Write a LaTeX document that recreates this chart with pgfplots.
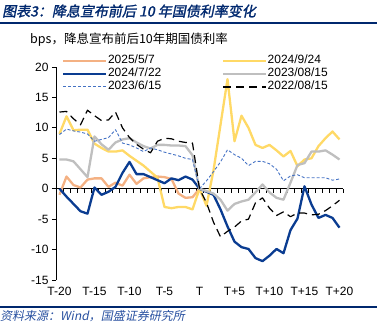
\documentclass[border=0pt]{standalone}
\usepackage{pgfplots}
\usepackage{pgfplotstable}
\pgfplotsset{compat=1.18}
\usepackage{fontspec}
\setmainfont{Liberation Sans}
\newfontfamily\cjk{Noto Sans CJK SC}
\newfontfamily\cjkhead[FakeSlant=0.2,FakeBold=1.5]{Noto Sans CJK SC}
\newfontfamily\cjkit[FakeSlant=0.2]{Noto Sans CJK SC}
\definecolor{navy}{RGB}{0,40,110}
\definecolor{footblue}{RGB}{40,80,160}
\definecolor{csalmon}{RGB}{244,177,131}
\definecolor{cyellow}{RGB}{255,217,102}
\definecolor{cblue}{RGB}{10,60,145}
\definecolor{cgray}{RGB}{191,191,191}
\definecolor{clight}{RGB}{68,114,196}

\pgfplotstableread{
x s y b g l k
-20 -1.0 9.0 0.0 4.8 8.9 12.6
-19 2.0 11.9 -1.3 4.8 9.8 12.7
-18 0.6 9.6 -2.5 4.5 9.5 11.5
-17 0.2 9.7 -3.7 3.2 9.3 10.5
-16 1.5 9.7 -4.1 1.9 9.0 12.9
-15 1.7 7.4 0.2 8.6 7.8 12.0
-14 1.7 6.7 -1.0 7.3 8.1 11.2
-13 0.3 6.1 -0.5 6.4 8.4 11.3
-12 1.0 6.1 0.3 7.6 9.7 12.6
-11 0.5 6.3 2.6 8.1 7.5 10.0
-10 2.3 5.4 4.4 8.3 7.2 8.4
-9 0.8 4.6 2.4 7.6 6.7 7.3
-8 1.7 3.8 2.4 7.0 6.1 6.5
-7 1.9 2.8 1.9 6.6 6.7 5.9
-6 2.0 1.8 1.4 7.2 6.4 7.8
-5 1.9 -3.0 0.9 7.2 6.0 8.3
-4 1.6 -3.2 1.7 7.1 5.7 8.2
-3 -0.8 -3.0 1.4 7.1 5.4 7.8
-2 -1.5 -3.0 2.0 7.0 5.0 7.6
-1 -1.4 -3.4 1.5 5.5 4.8 7.5
0 0 0 0 0 0 0
1 nan -2.8 -0.5 -0.4 1.3 -2.3
2 nan 3.0 -1.0 -0.8 2.8 -5.5
3 nan 10.5 -3.4 -1.8 4.4 -7.9
4 nan 18.0 -6.2 -3.6 6.4 -7.0
5 nan 7.8 -8.7 -2.5 5.6 -6.3
6 nan 12.0 -9.6 -2.1 5.0 -5.3
7 nan 10.0 -9.9 -1.8 3.8 -5.0
8 nan 7.2 -11.4 -0.6 4.5 -2.3
9 nan 6.7 -11.9 0.7 4.5 -1.5
10 nan 7.2 -11.0 -0.6 4.1 -3.2
11 nan 6.3 -9.9 -1.5 3.2 -4.4
12 nan 5.3 -10.6 -1.8 1.3 -3.8
13 nan 6.2 -6.8 1.0 2.1 -4.6
14 nan 3.7 -4.9 3.9 2.3 -4.0
15 nan 4.8 0.4 4.2 1.8 -4.0
16 nan 5.0 -2.6 6.1 1.8 -4.3
17 nan 7.0 -4.8 6.1 1.8 -4.2
18 nan 8.3 -4.3 6.3 1.8 -3.6
19 nan 9.4 -4.8 5.6 1.4 -2.8
20 nan 8.1 -6.4 4.8 1.6 -1.9
}\datatable

\begin{document}
\begin{tikzpicture}[x=1bp,y=1bp]
% zero line with category ticks
\begin{axis}[scale only axis, width=287bp, height=213bp,
  xmin=-20.5, xmax=20.5, ymin=-15, ymax=20,
  axis x line=middle, axis y line=none,
  x axis line style={-, black, line width=0.8bp},
  xtick={-20.5,-19.5,...,20.5}, xticklabels={}, ytick=\empty,
  tick align=outside, major tick length=4bp,
  x tick style={black, line width=0.8bp}]
\coordinate (Z) at (axis cs:0,0);
\end{axis}

\begin{axis}[at={(Z)}, anchor=origin, scale only axis, width=287bp, height=213bp,
  xmin=-20.5, xmax=20.5, ymin=-15, ymax=20,
  axis x line*=bottom, axis y line*=left,
  x axis line style={draw=none},
  y axis line style={-, black, line width=0.8bp},
  xtick={-20,-15,...,20},
  xticklabels={T-20,T-15,T-10,T-5,T,T+5,T+10,T+15,T+20},
  x tick style={draw=none},
  ytick={-15,-10,...,20},
  y tick style={black, line width=0.8bp},
  tick align=outside, major tick length=4bp,
  tick label style={font=\fontsize{12bp}{14bp}\selectfont},
  /pgf/number format/assume math mode=true,
  clip=false,
  legend columns=2,
  legend cell align=left,
  legend image code/.code={\draw[#1] (0bp,0bp) -- (43bp,0bp);},
  legend style={at={(0.021,1.06)}, anchor=north west, draw=none, fill=none, inner sep=0pt,
    font=\fontsize{12bp}{14bp}\selectfont,
    nodes={inner sep=0.5bp, text height=8.5bp, text depth=3.5bp},
    /tikz/column 2/.style={column sep=60bp}},
  every axis plot/.append style={line join=round}
]
\coordinate (O) at (axis cs:-20.5,-15);
\addplot[csalmon, line width=2.3bp] table[x=x,y=s]{\datatable};
\addlegendentry{2025/5/7}
\addplot[cyellow, line width=2.3bp] table[x=x,y=y]{\datatable};
\addlegendentry{2024/9/24}
\addplot[cblue, line width=2.3bp] table[x=x,y=b]{\datatable};
\addlegendentry{2024/7/22}
\addplot[cgray, line width=2.3bp] table[x=x,y=g]{\datatable};
\addlegendentry{2023/08/15}
\addplot[clight, line width=0.9bp, dash pattern=on 3bp off 2bp] table[x=x,y=l]{\datatable};
\addlegendentry{2023/6/15}
\addplot[black, line width=1.2bp, dash pattern=on 8bp off 5bp] table[x=x,y=k]{\datatable};
\addlegendentry{2022/08/15}
\end{axis}

\begin{scope}[shift={(O)}, xshift=-56bp, yshift=-45bp]
\node[anchor=west,inner sep=0,font=\cjkhead\fontsize{14bp}{16bp}\selectfont,text=navy] at (2,314) {图表3：降息宣布前后 10 年国债利率变化};
\draw[navy,line width=2bp] (0,302.5) -- (377,302.5);
\node[anchor=west,inner sep=0,font=\cjk\fontsize{12.5bp}{14bp}\selectfont] at (30,285) {bps，降息宣布前后10年期国债利率};
\draw[navy,line width=1.5bp] (0,18) -- (377,18);
\node[anchor=west,inner sep=0,font=\cjkit\fontsize{12bp}{14bp}\selectfont,text=footblue] at (0,9) {资料来源：Wind，国盛证券研究所};
\pgfresetboundingbox
\path (0,0) rectangle (377,325);
\end{scope}
\end{tikzpicture}
\end{document}
